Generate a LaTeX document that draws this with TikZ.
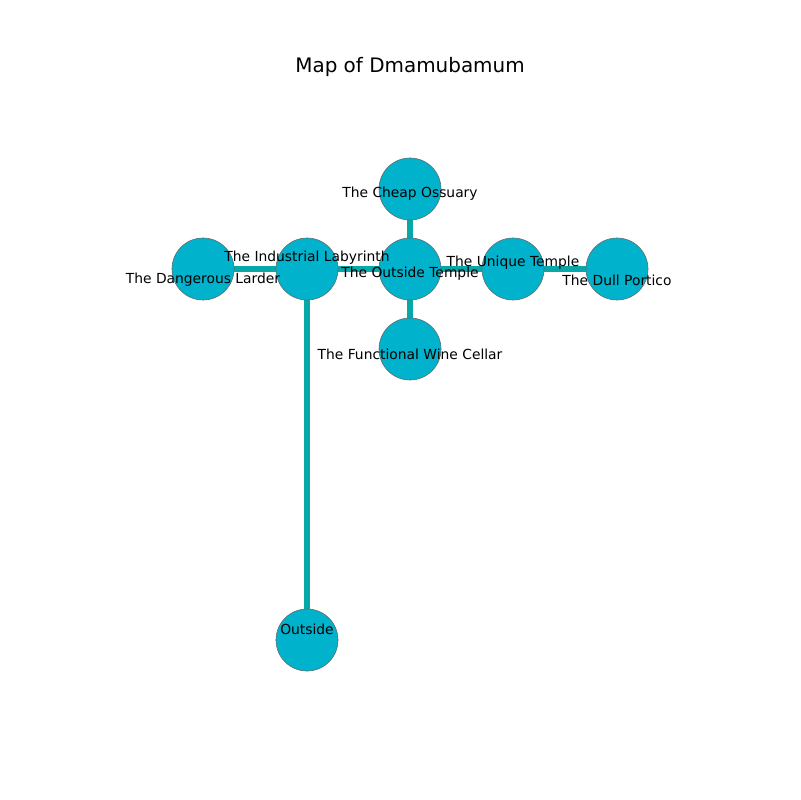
\documentclass[tikz,border=0pt]{standalone}
\usepackage{fontspec}
\setmainfont{DejaVu Sans}
\usetikzlibrary{calc}
\definecolor{colstanza}{HTML}{00B2CC}
\definecolor{colpassaggio}{HTML}{08A8A8}
\begin{document}
\begin{tikzpicture}[x=0.01in,y=-0.01in,font=\fontsize{10}{12}\selectfont,
  stanza/.style={circle,draw=gray!80!black,line width=0.4pt,fill=colstanza,minimum size=0.62in,inner sep=0pt},
  passaggio/.style={draw=colpassaggio,line width=4.3pt},
  nome/.style={inner sep=0pt,anchor=center}]
\useasboundingbox (0,0) rectangle (800,800);

\node[font=\fontsize{14.4}{17}\selectfont] (titolo) at (410,67) {Map of Dmamubamum};

% stanze
\coordinate (ossuario) at (410,189);
\coordinate (labirinto) at (307,269);
\coordinate (dispensa) at (203,269);
\coordinate (tempioest) at (410,269);
\coordinate (tempiouni) at (513,269);
\coordinate (portico) at (617,269);
\coordinate (cantina) at (410,349);
\coordinate (fuori) at (307,640);

% passaggi
\draw[passaggio] (dispensa) -- (labirinto);
\draw[passaggio] (labirinto) -- (tempioest);
\draw[passaggio] (tempioest) -- (ossuario);
\draw[passaggio] (tempioest) -- (cantina);
\draw[passaggio] (tempioest) -- (tempiouni);
\draw[passaggio] (tempiouni) -- (portico);
\draw[passaggio] (labirinto) -- (fuori);

\foreach \s in {ossuario,labirinto,dispensa,tempioest,tempiouni,portico,cantina,fuori}
  \node[stanza] (c-\s) at (\s) {};

\node[nome] (n-ossuario) at ($(ossuario)+(0,5)$) {The Cheap Ossuary};
\node[nome] (n-labirinto) at ($(labirinto)+(0,-11)$) {The Industrial Labyrinth};
\node[nome] (n-dispensa) at ($(dispensa)+(0,11)$) {The Dangerous Larder};
\node[nome] (n-tempioest) at ($(tempioest)+(0,5)$) {The Outside Temple};
\node[nome] (n-tempiouni) at ($(tempiouni)+(0,-6)$) {The Unique Temple};
\node[nome] (n-portico) at ($(portico)+(0,11)$) {The Dull Portico};
\node[nome] (n-cantina) at ($(cantina)+(0,5)$) {The Functional Wine Cellar};
\node[nome] (n-fuori) at ($(fuori)+(0,-11)$) {Outside};

\end{tikzpicture}
\end{document}
